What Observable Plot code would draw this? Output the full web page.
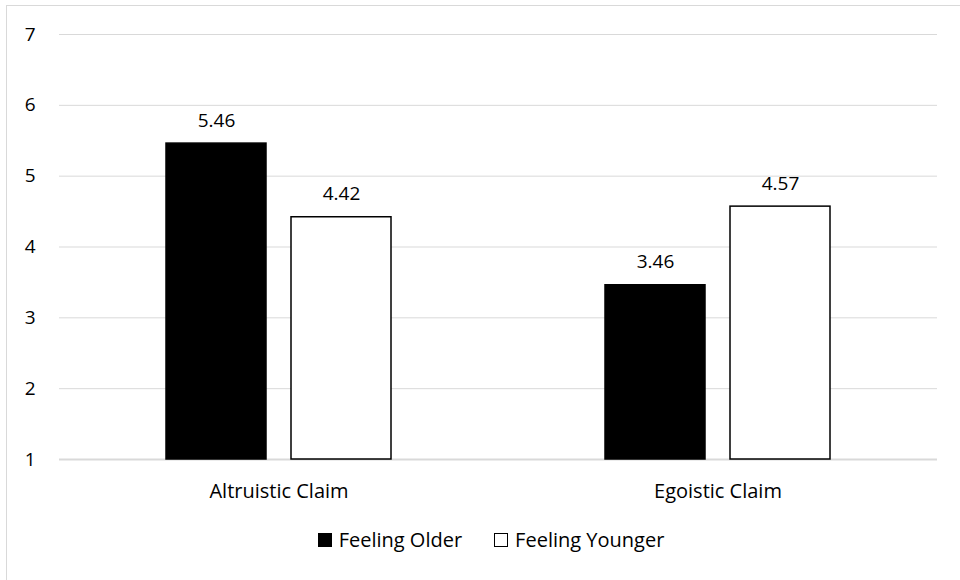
<!DOCTYPE html>
<html><head><meta charset="utf-8">
<script src="https://cdn.jsdelivr.net/npm/d3@7"></script>
<script src="https://cdn.jsdelivr.net/npm/@observablehq/plot@0.6"></script>
<style>
body{margin:0;background:#fff;font-family:"Open Sans",sans-serif;width:960px;height:580px;overflow:hidden;position:relative;}
#frame{position:absolute;left:6px;top:5px;width:1000px;height:1000px;border-top:1.5px solid #d9d9d9;border-left:1.5px solid #d9d9d9;box-sizing:border-box;}
#chart{position:absolute;left:0;top:0;}
#legend{position:absolute;left:0;width:982px;top:530px;display:flex;justify-content:center;align-items:center;font-size:20px;line-height:20px;color:#000;}
.item{display:flex;align-items:center;margin:0 16px;}
.sw{width:14px;height:14px;box-sizing:border-box;border:1.5px solid #000;margin-right:7px;}
</style>
</head><body>
<div id="frame"></div>
<div id="chart"></div>
<div id="legend"></div>
<script>
const categories = ["Altruistic Claim", "Egoistic Claim"];
const series = ["Feeling Older", "Feeling Younger"];
const feelingOlder = [5.46, 3.46];
const feelingYounger = [4.42, 4.57];
const yTicks = [1, 2, 3, 4, 5, 6, 7];
const seriesColors = ["#000000", "#ffffff"];

const data = categories.flatMap((c, i) => [
  {category: c, series: series[0], value: feelingOlder[i]},
  {category: c, series: series[1], value: feelingYounger[i]}
]);

const chart = Plot.plot({
  width: 960, height: 510,
  marginLeft: 59, marginRight: 23, marginTop: 34, marginBottom: 51,
  style: {fontFamily: "Open Sans", fontSize: "20px", color: "#000", background: "transparent", overflow: "visible"},
  fx: {domain: categories, padding: 0, label: null},
  x: {domain: series, paddingInner: 0.2, paddingOuter: 0.856, axis: null},
  y: {domain: [1, 7], label: null},
  color: {domain: series, range: seriesColors},
  marks: [
    Plot.gridY(yTicks, {stroke: "#d9d9d9", strokeOpacity: 1, strokeWidth: 1}),
    Plot.ruleY([1], {stroke: "#d9d9d9", strokeWidth: 2}),
    Plot.axisY(yTicks, {tickSize: 0, tickPadding: 24, label: null, fontSize: 19, tickFormat: d3.format("d")}),
    Plot.axisFx({anchor: "bottom", tickSize: 0, tickPadding: 24, label: null, fontSize: 20}),
    Plot.barY(data, {fx: "category", x: "series", y1: 1, y2: "value", fill: "series", stroke: "#000", strokeWidth: 1.5}),
    Plot.text(data, {fx: "category", x: "series", y: "value", text: d => d.value.toFixed(2), lineAnchor: "bottom", dy: -17, fontSize: 19, fill: "#000"})
  ]
});
document.getElementById("chart").appendChild(chart);

const legend = document.getElementById("legend");
series.forEach((s, i) => {
  const item = document.createElement("div");
  item.className = "item";
  const sw = document.createElement("div");
  sw.className = "sw";
  sw.style.background = seriesColors[i];
  const label = document.createElement("span");
  label.textContent = s;
  item.appendChild(sw);
  item.appendChild(label);
  legend.appendChild(item);
});
</script>
</body></html>
